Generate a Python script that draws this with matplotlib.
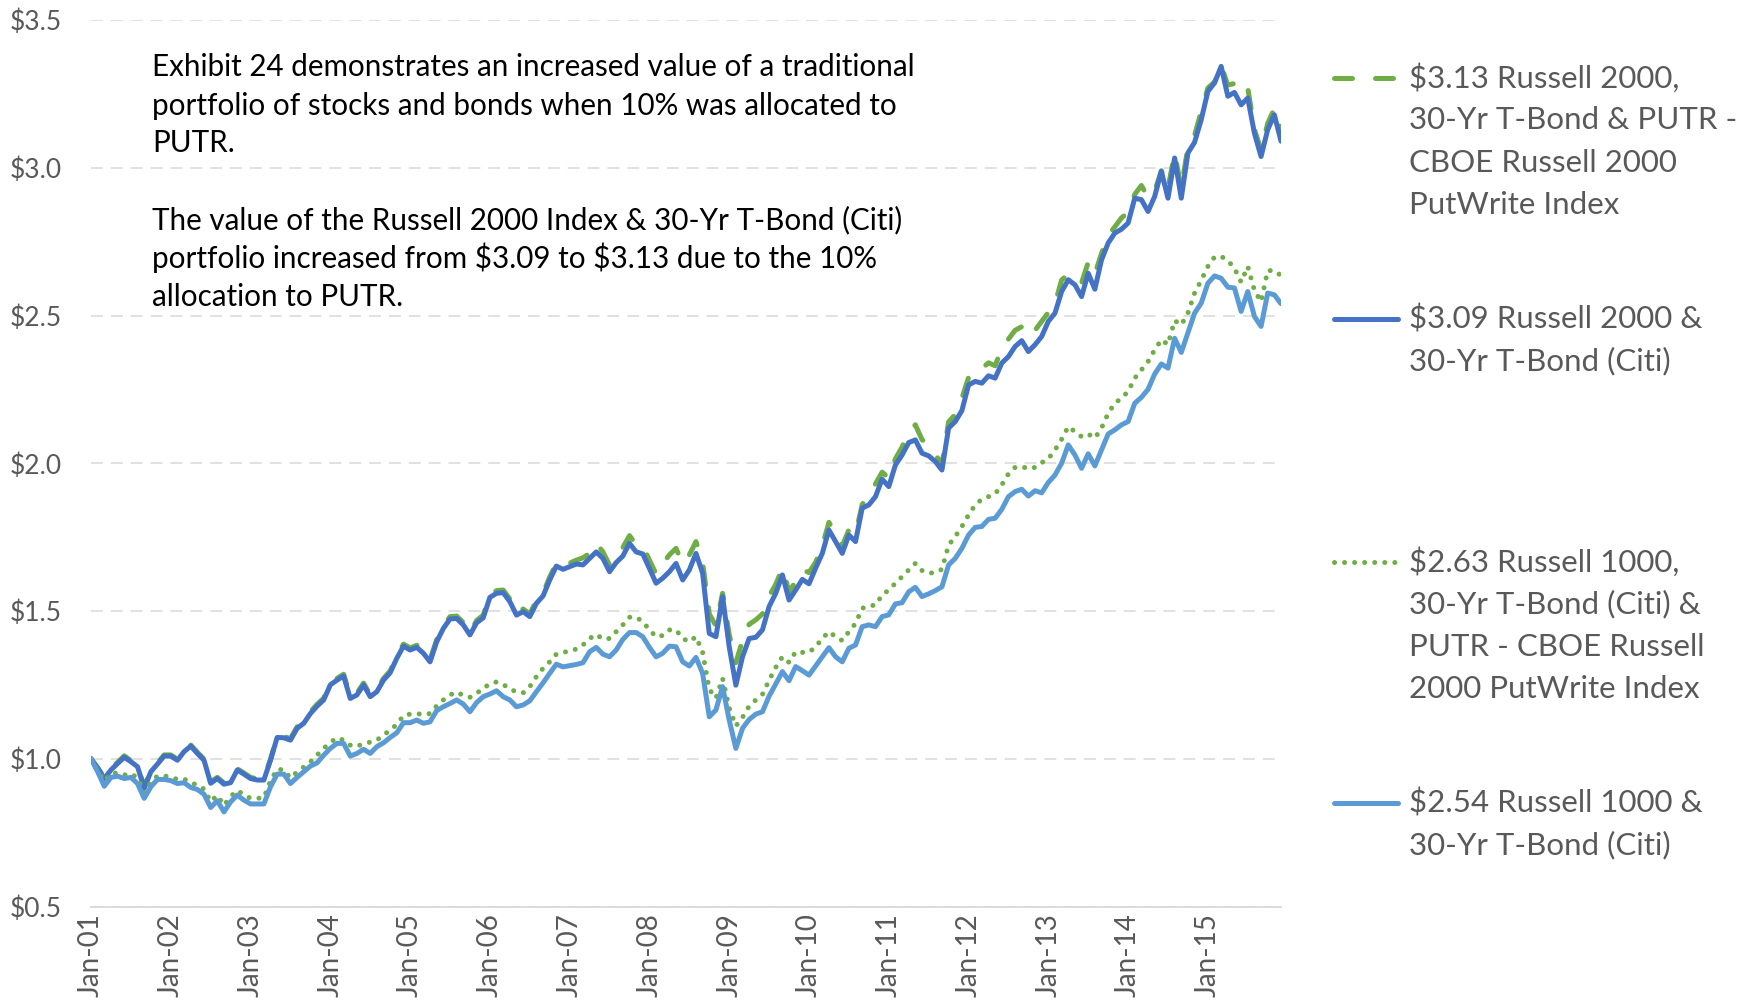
import matplotlib
matplotlib.use("Agg")
import matplotlib.pyplot as plt
from matplotlib.lines import Line2D
import numpy as np

# ---------------- data (monthly, Jan-2001 .. Dec-2015) ----------------
tick_years = list(range(2001, 2016))
tick_labels = ["Jan-%02d" % (y % 100) for y in tick_years]

r2000_bond_putr = [
    1.000, 0.970, 0.936, 0.965, 0.988, 1.010, 0.994, 0.977, 0.905, 0.960, 0.986, 1.013,
    1.013, 0.999, 1.028, 1.047, 1.022, 0.999, 0.922, 0.937, 0.918, 0.923, 0.966, 0.952,
    0.937, 0.932, 0.932, 0.999, 1.076, 1.076, 1.068, 1.108, 1.126, 1.159, 1.184, 1.205,
    1.256, 1.272, 1.286, 1.210, 1.222, 1.256, 1.216, 1.233, 1.272, 1.297, 1.347, 1.388,
    1.375, 1.384, 1.364, 1.335, 1.403, 1.449, 1.481, 1.483, 1.461, 1.427, 1.468, 1.486,
    1.555, 1.569, 1.571, 1.541, 1.495, 1.507, 1.490, 1.535, 1.560, 1.615, 1.662, 1.652,
    1.662, 1.672, 1.680, 1.695, 1.730, 1.700, 1.655, 1.690, 1.715, 1.755, 1.725, 1.720,
    1.672, 1.625, 1.660, 1.690, 1.712, 1.660, 1.690, 1.735, 1.665, 1.490, 1.450, 1.560,
    1.420, 1.325, 1.400, 1.455, 1.470, 1.490, 1.550, 1.590, 1.645, 1.565, 1.600, 1.640,
    1.630, 1.665, 1.720, 1.800, 1.760, 1.720, 1.775, 1.760, 1.860, 1.895, 1.930, 1.970,
    1.950, 2.015, 2.055, 2.105, 2.130, 2.080, 2.060, 2.030, 1.995, 2.140, 2.165, 2.220,
    2.290, 2.316, 2.320, 2.340, 2.330, 2.390, 2.420, 2.450, 2.462, 2.430, 2.450, 2.480,
    2.510, 2.540, 2.620, 2.640, 2.630, 2.610, 2.680, 2.640, 2.710, 2.770, 2.800, 2.830,
    2.850, 2.910, 2.940, 2.900, 2.920, 2.990, 2.930, 3.050, 2.930, 3.070, 3.110, 3.190,
    3.270, 3.290, 3.345, 3.280, 3.285, 3.255, 3.270, 3.130, 3.060, 3.150, 3.200, 3.130,
]

r2000_bond = [
    1.000, 0.968, 0.933, 0.962, 0.984, 1.005, 0.990, 0.973, 0.900, 0.956, 0.982, 1.009,
    1.009, 0.995, 1.024, 1.043, 1.018, 0.995, 0.917, 0.933, 0.914, 0.919, 0.962, 0.948,
    0.933, 0.928, 0.928, 0.995, 1.072, 1.071, 1.063, 1.103, 1.120, 1.153, 1.178, 1.199,
    1.250, 1.266, 1.280, 1.204, 1.216, 1.250, 1.210, 1.227, 1.266, 1.291, 1.340, 1.381,
    1.368, 1.377, 1.357, 1.328, 1.396, 1.441, 1.473, 1.475, 1.453, 1.419, 1.460, 1.477,
    1.546, 1.560, 1.562, 1.532, 1.486, 1.498, 1.481, 1.526, 1.551, 1.605, 1.652, 1.641,
    1.650, 1.659, 1.656, 1.678, 1.700, 1.678, 1.633, 1.664, 1.686, 1.729, 1.700, 1.693,
    1.644, 1.594, 1.611, 1.633, 1.661, 1.605, 1.639, 1.695, 1.628, 1.424, 1.413, 1.549,
    1.379, 1.249, 1.345, 1.407, 1.411, 1.436, 1.515, 1.560, 1.622, 1.537, 1.571, 1.607,
    1.592, 1.645, 1.695, 1.774, 1.735, 1.695, 1.757, 1.735, 1.848, 1.859, 1.887, 1.946,
    1.921, 1.994, 2.028, 2.070, 2.079, 2.034, 2.025, 2.006, 1.977, 2.119, 2.141, 2.178,
    2.265, 2.277, 2.271, 2.296, 2.288, 2.339, 2.361, 2.395, 2.415, 2.378, 2.401, 2.429,
    2.480, 2.508, 2.581, 2.621, 2.604, 2.564, 2.643, 2.589, 2.688, 2.745, 2.779, 2.792,
    2.813, 2.897, 2.892, 2.852, 2.903, 2.988, 2.897, 3.033, 2.897, 3.050, 3.086, 3.163,
    3.258, 3.287, 3.343, 3.242, 3.255, 3.213, 3.236, 3.117, 3.038, 3.129, 3.179, 3.090,
]

r1000_bond_putr = [
    1.000, 0.960, 0.925, 0.950, 0.952, 0.945, 0.950, 0.935, 0.885, 0.920, 0.942, 0.942,
    0.938, 0.930, 0.932, 0.918, 0.912, 0.897, 0.855, 0.876, 0.842, 0.872, 0.893, 0.878,
    0.866, 0.866, 0.868, 0.925, 0.965, 0.962, 0.935, 0.955, 0.972, 0.989, 1.012, 1.035,
    1.055, 1.071, 1.063, 1.046, 1.041, 1.052, 1.056, 1.063, 1.080, 1.097, 1.116, 1.146,
    1.151, 1.153, 1.149, 1.153, 1.179, 1.199, 1.216, 1.226, 1.214, 1.208, 1.221, 1.239,
    1.253, 1.260, 1.252, 1.235, 1.227, 1.223, 1.244, 1.278, 1.306, 1.328, 1.354, 1.359,
    1.366, 1.371, 1.385, 1.407, 1.421, 1.405, 1.407, 1.430, 1.453, 1.479, 1.479, 1.464,
    1.436, 1.413, 1.417, 1.436, 1.436, 1.407, 1.396, 1.413, 1.360, 1.235, 1.205, 1.272,
    1.172, 1.111, 1.140, 1.178, 1.199, 1.218, 1.266, 1.309, 1.345, 1.326, 1.362, 1.360,
    1.360, 1.379, 1.407, 1.430, 1.413, 1.400, 1.430, 1.458, 1.509, 1.517, 1.520, 1.554,
    1.571, 1.594, 1.616, 1.639, 1.661, 1.637, 1.628, 1.630, 1.641, 1.723, 1.752, 1.786,
    1.825, 1.859, 1.878, 1.887, 1.896, 1.927, 1.964, 1.986, 1.989, 1.981, 1.986, 2.002,
    2.015, 2.045, 2.081, 2.124, 2.107, 2.090, 2.099, 2.085, 2.119, 2.169, 2.203, 2.220,
    2.243, 2.288, 2.316, 2.344, 2.384, 2.418, 2.402, 2.483, 2.468, 2.508, 2.576, 2.619,
    2.666, 2.698, 2.700, 2.686, 2.660, 2.613, 2.666, 2.585, 2.547, 2.652, 2.652, 2.635,
]

r1000_bond = [
    1.000, 0.956, 0.907, 0.937, 0.941, 0.933, 0.937, 0.916, 0.866, 0.905, 0.930, 0.930,
    0.926, 0.916, 0.919, 0.903, 0.896, 0.880, 0.835, 0.858, 0.820, 0.854, 0.877, 0.860,
    0.847, 0.847, 0.847, 0.905, 0.948, 0.948, 0.916, 0.937, 0.956, 0.975, 0.986, 1.012,
    1.035, 1.052, 1.052, 1.009, 1.018, 1.032, 1.018, 1.041, 1.054, 1.072, 1.088, 1.122,
    1.122, 1.131, 1.120, 1.125, 1.163, 1.176, 1.187, 1.199, 1.185, 1.159, 1.190, 1.210,
    1.219, 1.230, 1.210, 1.199, 1.176, 1.182, 1.196, 1.227, 1.257, 1.289, 1.320, 1.311,
    1.315, 1.319, 1.325, 1.362, 1.377, 1.354, 1.345, 1.368, 1.404, 1.427, 1.427, 1.413,
    1.377, 1.345, 1.357, 1.381, 1.379, 1.328, 1.314, 1.343, 1.289, 1.142, 1.165, 1.244,
    1.131, 1.035, 1.103, 1.133, 1.151, 1.159, 1.212, 1.253, 1.295, 1.264, 1.312, 1.298,
    1.283, 1.314, 1.345, 1.376, 1.345, 1.328, 1.374, 1.385, 1.447, 1.453, 1.447, 1.481,
    1.487, 1.524, 1.528, 1.565, 1.580, 1.549, 1.558, 1.569, 1.582, 1.656, 1.678, 1.712,
    1.757, 1.783, 1.786, 1.810, 1.814, 1.844, 1.887, 1.904, 1.912, 1.889, 1.907, 1.900,
    1.935, 1.960, 2.000, 2.062, 2.028, 1.983, 2.032, 1.991, 2.045, 2.099, 2.113, 2.130,
    2.141, 2.203, 2.223, 2.250, 2.302, 2.336, 2.322, 2.423, 2.375, 2.442, 2.508, 2.542,
    2.609, 2.634, 2.626, 2.596, 2.593, 2.514, 2.581, 2.497, 2.463, 2.576, 2.570, 2.540,
]

y_ticks = [0.5, 1.0, 1.5, 2.0, 2.5, 3.0, 3.5]
y_tick_labels = ["$0.5", "$1.0", "$1.5", "$2.0", "$2.5", "$3.0", "$3.5"]

legend_labels = [
    ["$3.13 Russell 2000,", "30-Yr T-Bond & PUTR -", "CBOE Russell 2000", "PutWrite Index"],
    ["$3.09 Russell 2000 &", "30-Yr T-Bond (Citi)"],
    ["$2.63 Russell 1000,", "30-Yr T-Bond (Citi) &", "PUTR - CBOE Russell", "2000 PutWrite Index"],
    ["$2.54 Russell 1000 &", "30-Yr T-Bond (Citi)"],
]

note_lines = [
    "Exhibit 24 demonstrates an increased value of a traditional",
    "portfolio of stocks and bonds when 10% was allocated to",
    "PUTR.",
    "The value of the Russell 2000 Index & 30-Yr T-Bond (Citi)",
    "portfolio increased from $3.09 to $3.13 due to the 10%",
    "allocation to PUTR.",
]

# ---------------- styling ----------------
GREEN = "#70AD47"
DARK_BLUE = "#4472C4"
LIGHT_BLUE = "#5B9BD5"
GRID = "#D9D9D9"
TXT = "#595959"
FONT = ["Lato", "DejaVu Sans"]

plt.rcParams["font.family"] = FONT

W, H = 1744, 1005
fig = plt.figure(figsize=(W / 100, H / 100), dpi=100)
fig.patch.set_facecolor("white")

def fx(px):
    return px / W

def fy(py):
    return 1 - py / H

ax = fig.add_axes([fx(91), fy(906.5), fx(1281) - fx(91), fy(20) - fy(906.5)])

x = np.arange(len(r2000_bond))
LW = 3.6
series = [
    (r2000_bond_putr, GREEN, (0, (3.6, 4.6))),
    (r2000_bond, DARK_BLUE, "-"),
    (r1000_bond_putr, GREEN, (0, (0.01, 2.0))),
    (r1000_bond, LIGHT_BLUE, "-"),
]
handles = []
for vals, col, ls in series:
    ax.plot(x, vals, color=col, lw=LW, linestyle=ls,
            dash_capstyle="round", solid_capstyle="round",
            solid_joinstyle="round", dash_joinstyle="round")
    handles.append((col, ls))

ax.set_xlim(0, len(r2000_bond) - 1)
ax.set_ylim(0.5, 3.5)
ax.set_yticks(y_ticks)
ax.set_yticklabels(y_tick_labels)
ax.set_xticks(np.arange(0, len(r2000_bond), 12))
ax.set_xticklabels(tick_labels, rotation=90, va="top", ha="center")
ax.tick_params(axis="both", length=0, colors=TXT)
ax.tick_params(axis="y", pad=21, labelsize=19)
ax.tick_params(axis="x", pad=5, labelsize=20)
for lab in ax.get_xticklabels() + ax.get_yticklabels():
    lab.set_parse_math(False)

ax.yaxis.grid(True, color=GRID, lw=1.1, linestyle=(0, (7.8, 5.2)))
ax.set_axisbelow(True)
for s in ["top", "right", "left"]:
    ax.spines[s].set_visible(False)
ax.spines["bottom"].set_color(GRID)
ax.spines["bottom"].set_linewidth(1.3)

# ---------------- legend (manual, right side) ----------------
first_line_y = [78, 319, 562, 803]
line_pitch = 42.3
for (col, ls), lines, y0 in zip(handles, legend_labels, first_line_y):
    fig.add_artist(Line2D([fx(1334), fx(1398)], [fy(y0), fy(y0)],
                          transform=fig.transFigure, color=col, lw=LW,
                          linestyle=ls, dash_capstyle="round",
                          solid_capstyle="round"))
    for k, t in enumerate(lines):
        fig.text(fx(1409), fy(y0 + k * line_pitch), t, color=TXT,
                 fontsize=22.5, va="center", ha="left", family=FONT,
                 parse_math=False)

# ---------------- annotation ----------------
note_y = [67, 106, 143, 220, 258, 297]
for t, yy in zip(note_lines, note_y):
    fig.text(fx(152), fy(yy), t, color="black", fontsize=21.3,
             va="center", ha="left", family=FONT, parse_math=False)

fig.savefig("out.png", dpi=100, facecolor="white")
